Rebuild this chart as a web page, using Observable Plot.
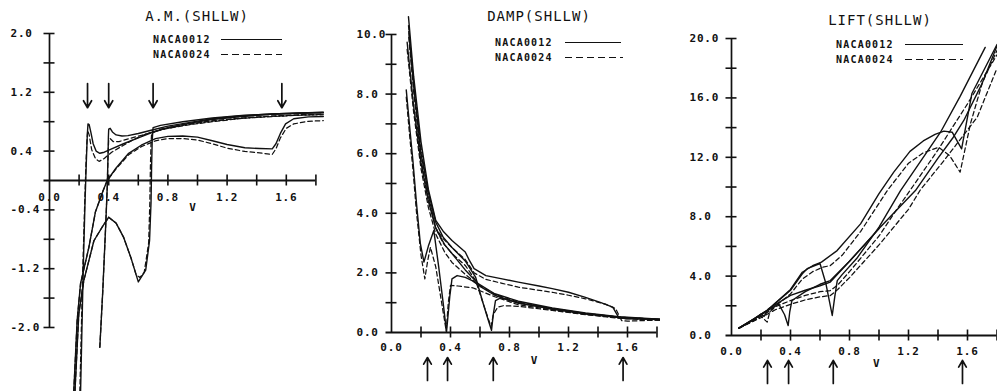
<!DOCTYPE html>
<html><head><meta charset="utf-8">
<script src="https://cdn.jsdelivr.net/npm/d3@7"></script>
<script src="https://cdn.jsdelivr.net/npm/@observablehq/plot@0.6"></script>
<style>
body{margin:0;background:#fff;}
#wrap{position:relative;width:997px;height:391px;overflow:hidden;background:#fff;color:#111;}
#wrap svg.plotp{position:absolute;top:0;}
#wrap svg text{letter-spacing:0.8px;}
.title{position:absolute;font-family:"DejaVu Sans Mono",monospace;font-size:14px;letter-spacing:1px;transform:translate(-50%,-50%);white-space:nowrap;}
.leg{position:absolute;font-family:"DejaVu Sans Mono",monospace;font-size:10px;font-weight:bold;letter-spacing:1.2px;transform:translateY(-50%);white-space:nowrap;}
.ln{position:absolute;height:1.4px;background:#111;}
.ln.d{background:repeating-linear-gradient(90deg,#111 0 7px,transparent 7px 11px);}
</style>
</head><body>
<div id="wrap">
  <div class="title" style="left:197px;top:16px">A.M.(SHLLW)</div>
  <div class="title" style="left:539px;top:16px">DAMP(SHLLW)</div>
  <div class="title" style="left:880px;top:20px">LIFT(SHLLW)</div>
  <div class="leg" style="left:153px;top:39px">NACA0012</div><div class="ln" style="left:221px;top:39px;width:61px"></div>
  <div class="leg" style="left:153px;top:54px">NACA0024</div><div class="ln d" style="left:221px;top:54px;width:61px"></div>
  <div class="leg" style="left:495px;top:42px">NACA0012</div><div class="ln" style="left:565px;top:42px;width:56px"></div>
  <div class="leg" style="left:495px;top:57px">NACA0024</div><div class="ln d" style="left:565px;top:57px;width:58px"></div>
  <div class="leg" style="left:836px;top:44px">NACA0012</div><div class="ln" style="left:905px;top:44px;width:58px"></div>
  <div class="leg" style="left:836px;top:59px">NACA0024</div><div class="ln d" style="left:905px;top:59px;width:58px"></div>
</div>
<script>
// ---------- A.M.(SHLLW) ----------
const amA12 = [[0.21,-2.87],[0.228,-1.2],[0.24,-0.3],[0.248,0.2],[0.255,0.6],[0.26,0.77],[0.268,0.76],[0.28,0.65],[0.295,0.5],[0.315,0.40],[0.34,0.37],[0.37,0.385],[0.42,0.43],[0.5,0.50],[0.6,0.58],[0.7,0.66],[0.8,0.72],[0.95,0.78],[1.1,0.83],[1.3,0.87],[1.5,0.9],[1.7,0.915],[1.85,0.92]];
const amB12 = [[0.34,-2.27],[0.36,-1.5],[0.38,-0.6],[0.39,-0.1],[0.395,0.3],[0.398,0.6],[0.40,0.70],[0.41,0.71],[0.425,0.66],[0.45,0.62],[0.49,0.605],[0.53,0.61],[0.6,0.64],[0.7,0.69],[0.8,0.74],[0.95,0.79],[1.1,0.84],[1.3,0.88],[1.5,0.905],[1.7,0.92],[1.85,0.925]];
const amC12 = [[0.164,-2.87],[0.187,-1.9],[0.21,-1.4],[0.266,-0.91],[0.31,-0.43],[0.36,-0.15],[0.39,0],[0.45,0.17],[0.535,0.37],[0.62,0.48],[0.716,0.57],[0.8,0.60],[0.9,0.605],[1.0,0.59],[1.1,0.54],[1.2,0.49],[1.32,0.445],[1.42,0.435],[1.505,0.43],[1.53,0.5],[1.56,0.64],[1.595,0.77],[1.65,0.84],[1.75,0.865],[1.85,0.87]];
const amD12 = [[0.172,-2.87],[0.198,-1.81],[0.232,-1.36],[0.30,-0.82],[0.36,-0.62],[0.40,-0.50],[0.45,-0.58],[0.50,-0.77],[0.55,-1.05],[0.60,-1.38],[0.65,-1.22],[0.676,-0.82],[0.686,-0.3],[0.69,0.2],[0.694,0.55],[0.70,0.72],[0.75,0.75],[0.9,0.80],[1.1,0.85],[1.3,0.885],[1.5,0.905],[1.85,0.93]];
const amA24 = [[0.205,-2.87],[0.225,-1.2],[0.238,-0.3],[0.246,0.2],[0.252,0.5],[0.258,0.68],[0.268,0.62],[0.285,0.42],[0.31,0.3],[0.335,0.26],[0.37,0.30],[0.42,0.385],[0.5,0.48],[0.56,0.55],[0.65,0.63],[0.716,0.67],[0.8,0.71],[0.95,0.76],[1.1,0.80],[1.3,0.845],[1.5,0.87],[1.7,0.89],[1.85,0.895]];
const amB24 = [[0.34,-2.27],[0.36,-1.5],[0.38,-0.6],[0.39,-0.1],[0.395,0.3],[0.40,0.56],[0.41,0.57],[0.43,0.53],[0.47,0.53],[0.55,0.575],[0.65,0.63],[0.75,0.69],[0.9,0.75],[1.1,0.81],[1.3,0.85],[1.5,0.875],[1.7,0.895],[1.85,0.9]];
const amC24 = [[0.164,-2.87],[0.187,-1.9],[0.21,-1.4],[0.266,-0.91],[0.31,-0.43],[0.36,-0.15],[0.39,0],[0.45,0.16],[0.535,0.35],[0.62,0.46],[0.716,0.54],[0.8,0.57],[0.9,0.57],[1.0,0.55],[1.1,0.50],[1.2,0.44],[1.32,0.395],[1.42,0.375],[1.505,0.355],[1.53,0.43],[1.56,0.58],[1.6,0.71],[1.65,0.77],[1.75,0.805],[1.85,0.815]];
const amD24 = [[0.172,-2.87],[0.198,-1.81],[0.232,-1.36],[0.30,-0.82],[0.36,-0.62],[0.40,-0.50],[0.45,-0.58],[0.50,-0.77],[0.55,-1.05],[0.585,-1.28],[0.61,-1.32],[0.64,-1.25],[0.67,-0.85],[0.678,-0.3],[0.682,0.2],[0.686,0.5],[0.69,0.64],[0.75,0.70],[0.9,0.76],[1.1,0.81],[1.3,0.85],[1.5,0.875],[1.85,0.9]];
const amArrows = [0.257, 0.40, 0.70, 1.57];
const amYTicks = [-2.0,-1.6,-1.2,-0.8,-0.4,0.4,0.8,1.2,1.6,2.0];
const amYLabels = [-2.0,-1.2,-0.4,0.4,1.2,2.0];

// ---------- DAMP(SHLLW) ----------
const dp1_12 = [[0.115,10.6],[0.15,8.6],[0.2,6.4],[0.25,4.8],[0.3,3.76],[0.35,3.4],[0.41,3.09],[0.5,2.70],[0.53,2.4],[0.56,2.14],[0.64,1.91],[0.75,1.8],[0.86,1.69],[1.0,1.56],[1.09,1.47],[1.2,1.35],[1.315,1.18],[1.42,1.0],[1.5,0.85],[1.54,0.51],[1.59,0.46],[1.7,0.45],[1.85,0.44]];
const dp2_12 = [[0.106,9.74],[0.15,7.6],[0.2,5.7],[0.25,4.4],[0.3,3.5],[0.36,2.95],[0.41,2.65],[0.5,2.1],[0.59,1.63],[0.7,1.3],[0.86,1.05],[1.09,0.82],[1.315,0.66],[1.54,0.53],[1.85,0.44]];
const dp3_12 = [[0.10,8.14],[0.125,6.8],[0.145,5.77],[0.17,4.3],[0.195,3.0],[0.22,2.36],[0.25,2.9],[0.287,3.42],[0.32,2.2],[0.35,1.0],[0.373,0.02],[0.395,1.2],[0.41,1.8],[0.445,1.91],[0.5,1.85],[0.547,1.74],[0.6,1.55],[0.7,1.25],[0.86,0.98],[1.09,0.80],[1.315,0.64],[1.54,0.51],[1.85,0.42]];
const dp4_12 = [[0.117,10.1],[0.15,8.3],[0.2,6.0],[0.25,4.7],[0.3,3.7],[0.35,3.2],[0.41,2.85],[0.5,2.4],[0.57,1.86],[0.62,1.0],[0.66,0.35],[0.678,0.07],[0.69,0.6],[0.705,1.07],[0.74,1.16],[0.8,1.08],[0.9,0.96],[1.09,0.78],[1.315,0.62],[1.54,0.50],[1.85,0.43]];
const dp1_24 = [[0.115,10.3],[0.15,8.4],[0.2,6.2],[0.25,4.6],[0.3,3.5],[0.35,3.15],[0.41,2.85],[0.5,2.45],[0.56,2.0],[0.64,1.78],[0.75,1.65],[0.86,1.52],[1.09,1.35],[1.2,1.25],[1.315,1.13],[1.45,0.95],[1.52,0.80],[1.56,0.40],[1.6,0.38],[1.7,0.4],[1.85,0.42]];
const dp2_24 = [[0.106,9.5],[0.15,7.4],[0.2,5.5],[0.25,4.2],[0.3,3.3],[0.36,2.7],[0.41,2.35],[0.5,1.95],[0.59,1.6],[0.7,1.28],[0.86,1.02],[1.09,0.80],[1.315,0.64],[1.54,0.52],[1.85,0.43]];
const dp3_24 = [[0.10,7.9],[0.125,6.5],[0.145,5.5],[0.17,4.0],[0.2,2.6],[0.226,1.80],[0.245,2.4],[0.264,2.86],[0.3,2.2],[0.34,1.0],[0.371,0.05],[0.385,1.0],[0.40,1.58],[0.45,1.56],[0.55,1.5],[0.6,1.4],[0.7,1.2],[0.86,0.93],[1.09,0.76],[1.315,0.61],[1.54,0.49],[1.85,0.41]];
const dp4_24 = [[0.117,9.9],[0.15,8.1],[0.2,5.8],[0.25,4.5],[0.3,3.5],[0.35,3.0],[0.41,2.65],[0.5,2.25],[0.57,1.75],[0.62,1.0],[0.66,0.4],[0.675,0.2],[0.69,0.6],[0.72,0.85],[0.76,0.9],[0.86,0.88],[1.09,0.74],[1.315,0.6],[1.54,0.48],[1.85,0.41]];
const dpArrows = [0.244, 0.38, 0.69, 1.57];
const dpYTicks = [1,2,3,4,5,6,7,8,9,10];
const dpYLabels = [0,2,4,6,8,10];

// ---------- LIFT(SHLLW) ----------
const lf1_12 = [[0.05,0.5],[0.15,1.1],[0.25,1.75],[0.3,2.2],[0.4,3.1],[0.48,4.26],[0.55,4.7],[0.61,4.94],[0.716,5.72],[0.875,7.52],[1.0,9.55],[1.1,11.0],[1.21,12.4],[1.3,13.1],[1.38,13.55],[1.44,13.76],[1.496,13.69],[1.56,12.57],[1.63,16.3],[1.8,19.6]];
const lf2_12 = [[0.05,0.5],[0.15,1.1],[0.25,1.75],[0.3,2.2],[0.4,3.05],[0.48,4.15],[0.513,4.5],[0.60,4.85],[0.64,3.5],[0.683,1.35],[0.70,2.6],[0.717,3.7],[0.75,4.1],[0.85,5.2],[1.0,7.3],[1.146,9.76],[1.3,12.0],[1.417,13.69],[1.55,16.1],[1.72,19.4]];
const lf3_12 = [[0.05,0.5],[0.15,1.1],[0.25,1.7],[0.32,2.13],[0.36,1.4],[0.384,0.67],[0.395,1.6],[0.41,2.36],[0.5,2.95],[0.6,3.45],[0.67,3.7],[0.8,5.0],[1.0,7.2],[1.247,9.76],[1.4,11.95],[1.5,13.3],[1.575,14.48],[1.7,17.0],[1.8,19.5]];
const lf4_12 = [[0.05,0.5],[0.15,1.05],[0.2,1.45],[0.222,1.3],[0.25,1.8],[0.3,2.1],[0.4,2.7],[0.5,3.05],[0.6,3.35],[0.67,3.6],[0.8,5.0],[1.0,7.2]];
const lf1_24 = [[0.05,0.5],[0.15,1.0],[0.25,1.6],[0.3,2.0],[0.4,2.8],[0.48,3.8],[0.55,4.3],[0.62,4.6],[0.67,4.71],[0.75,5.4],[0.875,7.0],[1.0,8.9],[1.056,9.76],[1.2,11.6],[1.3,12.3],[1.405,12.68],[1.48,12.1],[1.55,11.0],[1.62,14.26],[1.7,17.0],[1.8,19.2]];
const lf2_24 = [[0.05,0.5],[0.15,1.0],[0.2,1.3],[0.242,0.9],[0.26,1.6],[0.3,1.95],[0.4,2.35],[0.5,2.7],[0.6,2.95],[0.67,3.03],[0.72,3.4],[0.8,4.3],[0.9,5.5],[1.0,6.7],[1.1,8.2],[1.21,9.76],[1.4,12.5],[1.6,15.6],[1.8,18.9]];
const lf3_24 = [[0.05,0.5],[0.2,1.2],[0.3,1.75],[0.4,2.1],[0.5,2.4],[0.6,2.6],[0.67,2.69],[0.72,3.1],[0.8,3.9],[0.9,5.0],[1.0,6.1],[1.1,7.3],[1.2,8.5],[1.28,9.8],[1.45,11.9],[1.666,14.7],[1.8,18.0]];
const lfArrows = [0.244, 0.387, 0.69, 1.566];
const lfYTicks = [2,4,6,8,10,12,14,16,18,20];
const lfYLabels = [0,4,8,12,16,20];

const xTicks = [0.2,0.4,0.6,0.8,1.0,1.2,1.4,1.6,1.8];
const xLabels = [0.0,0.4,0.8,1.2,1.6];

function rows(curves) {
  return curves.flatMap((c, i) => c.map(([x, y]) => ({x, y, id: i})));
}
const font = {fontFamily: "DejaVu Sans Mono", fontSize: 11, fontWeight: "bold", fill: "#111"};
const TICK_PX = 5.5;

function panel(c) {
  const hy = (c.yDomain[1] - c.yDomain[0]) / 391 * TICK_PX;   // half tick length in y units
  const hx = (c.xDomain[1] - c.xDomain[0]) / c.width * TICK_PX; // half tick length in x units
  const svg = Plot.plot({
    width: c.width, height: 391, margin: 0,
    x: {domain: c.xDomain, axis: null},
    y: {domain: c.yDomain, axis: null},
    style: {background: "transparent", overflow: "hidden", color: "#111"},
    marks: [
      Plot.ruleX([0], {y1: c.yAxisBottom, y2: c.yAxisTop, strokeWidth: 1.7}),
      Plot.ruleY([0], {x1: -hx, x2: 1.8, strokeWidth: 1.9}),
      Plot.ruleY(c.yTicks, {y: d => d, x1: -hx, x2: hx, strokeWidth: 1.6}),
      Plot.ruleX(xTicks, {x: d => d, y1: -hy, y2: hy, strokeWidth: 1.6}),
      Plot.text(c.yLabels, {x: 0, y: d => d, text: d => d.toFixed(1), textAnchor: "start", dx: c.yLabelDx, ...font}),
      Plot.text(xLabels, {x: d => d, y: 0, text: d => d.toFixed(1), dy: c.xLabelDy, ...font}),
      Plot.text(["V"], {x: c.vX, y: 0, text: d => d, dy: c.vDy, ...font}),
      Plot.arrow(c.arrows, {x1: d => d, x2: d => d, y1: c.arrowFrom, y2: c.arrowTo, headLength: 8, strokeWidth: 1.7}),
      Plot.line(rows(c.solid), {x: "x", y: "y", z: "id", strokeWidth: 1.4}),
      Plot.line(rows(c.dashed), {x: "x", y: "y", z: "id", strokeWidth: 1.25, strokeDasharray: "4.5,3"})
    ]
  });
  svg.classList.add("plotp");
  svg.style.left = c.left + "px";
  document.getElementById("wrap").appendChild(svg);
}

panel({left: 0, width: 330, xDomain: [-49/148, 281/148], yDomain: [-2.871, 2.449],
  yAxisBottom: -2.0, yAxisTop: 2.0, yTicks: amYTicks, yLabels: amYLabels, yLabelDx: -39,
  xLabelDy: 17, vX: 0.97, vDy: 27, arrows: amArrows, arrowFrom: 1.32, arrowTo: 0.99,
  solid: [amA12, amB12, amC12, amD12], dashed: [amA24, amB24, amC24, amD24]});

panel({left: 330, width: 330, xDomain: [-61/147.5, 269/147.5], yDomain: [-1.98, 11.14],
  yAxisBottom: 0, yAxisTop: 10, yTicks: dpYTicks, yLabels: dpYLabels, yLabelDx: -35,
  xLabelDy: 15, vX: 0.97, vDy: 28, arrows: dpArrows, arrowFrom: -1.61, arrowTo: -0.84,
  solid: [dp1_12, dp2_12, dp3_12, dp4_12], dashed: [dp1_24, dp2_24, dp3_24, dp4_24]});

panel({left: 660, width: 337, xDomain: [-71/147.5, 266/147.5], yDomain: [-3.77, 22.56],
  yAxisBottom: 0, yAxisTop: 20, yTicks: lfYTicks, yLabels: lfYLabels, yLabelDx: -42,
  xLabelDy: 16, vX: 0.985, vDy: 28, arrows: lfArrows, arrowFrom: -3.23, arrowTo: -1.68,
  solid: [lf1_12, lf2_12, lf3_12, lf4_12], dashed: [lf1_24, lf2_24, lf3_24]});
</script>
</body></html>
